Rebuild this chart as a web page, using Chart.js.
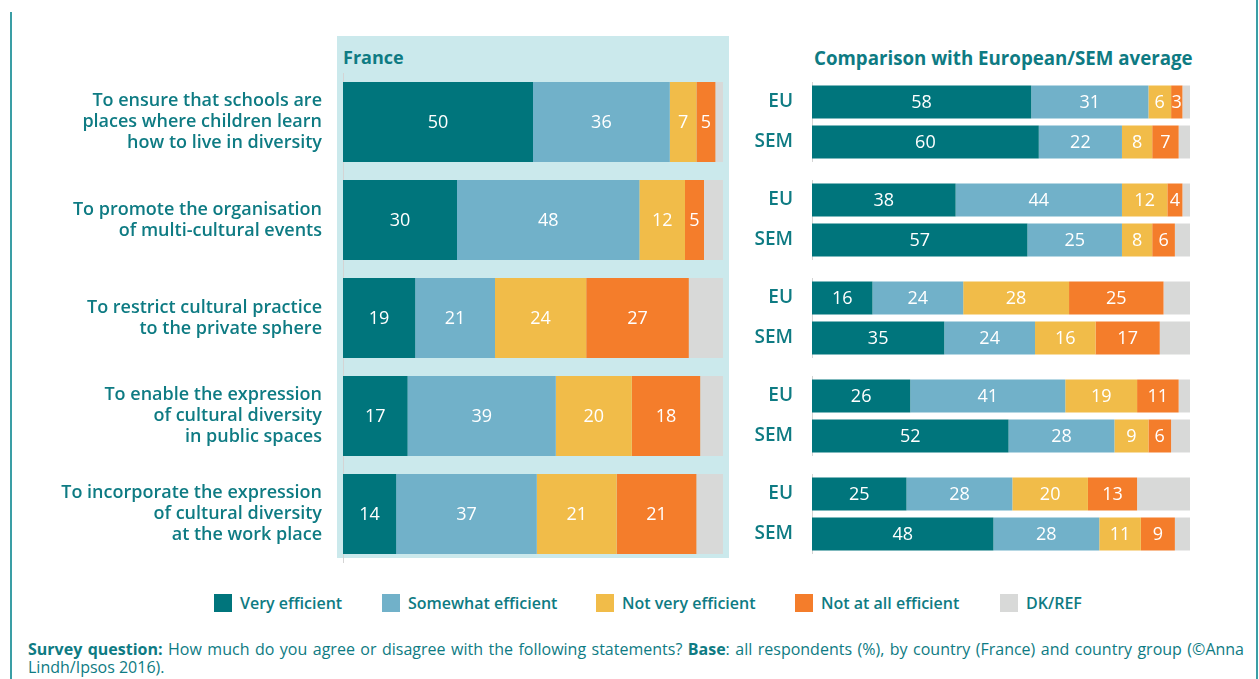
<!DOCTYPE html>
<html>
<head>
<meta charset="utf-8">
<title>Cultural diversity measures</title>
<script src="https://cdn.jsdelivr.net/npm/chart.js@4.4.1/dist/chart.umd.min.js"></script>
<style>
  body { margin: 0; background: #fff; font-family: "Open Sans", sans-serif; color: #0e7b83; }
  #page { position: relative; width: 1259px; height: 679px; overflow: hidden; }
  .rule { position: absolute; width: 2px; background: #3a9ea5; }
  #panel { position: absolute; left: 337px; top: 36px; width: 392px; height: 522px; background: #cbe9ec; }
  .title { position: absolute; font-weight: 700; font-size: 18px; line-height: 24px; white-space: nowrap; }
  canvas { position: absolute; }
  #legend { position: absolute; top: 593px; left: 0; width: 1259px; height: 20px; }
  .key { position: absolute; top: 0; font-size: 16px; font-weight: 600; line-height: 20px; white-space: nowrap; }
  .key i { position: absolute; left: -26px; top: 1px; width: 18px; height: 18px; }
  #note { position: absolute; left: 28px; top: 640px; width: 1216px; font-size: 16px; line-height: 18px; text-align: justify; }
</style>
</head>
<body>
<div id="page">
  <div class="rule" style="left:10px;top:12px;height:667px"></div>
  <div class="rule" style="left:1256px;top:0;height:679px"></div>
  <div id="panel"></div>
  <div class="title" style="left:343px;top:45px">France</div>
  <div class="title" style="left:814px;top:46px;font-size:18.7px">Comparison with European/SEM average</div>
  <canvas id="france" width="723" height="490" style="left:0;top:73px"></canvas>
  <div id="groups"></div>
  <div id="legend"></div>
  <div id="note"><b>Survey question:</b> How much do you agree or disagree with the following statements? <b>Base</b>: all respondents (%), by country (France) and country group (©Anna Lindh/Ipsos 2016).</div>
</div>
<script>
// statements (one line per array entry)
const statements = [
  ['To ensure that schools are', 'places where children learn', 'how to live in diversity'],
  ['To promote the organisation', 'of multi-cultural events'],
  ['To restrict cultural practice', 'to the private sphere'],
  ['To enable the expression', 'of cultural diversity', 'in public spaces'],
  ['To incorporate the expression', 'of cultural diversity', 'at the work place']
];
const regions = ['EU', 'SEM'];
const answers = ['Very efficient', 'Somewhat efficient', 'Not very efficient', 'Not at all efficient', 'DK/REF'];

// France, % per statement
const franceVery     = [50, 30, 19, 17, 14];
const franceSomewhat = [36, 48, 21, 39, 37];
const franceNotVery  = [7, 12, 24, 20, 21];
const franceNotAtAll = [5, 5, 27, 18, 21];
const franceDk       = [2, 5, 9, 6, 7];

// European average, % per statement
const euVery     = [58, 38, 16, 26, 25];
const euSomewhat = [31, 44, 24, 41, 28];
const euNotVery  = [6, 12, 28, 19, 20];
const euNotAtAll = [3, 4, 25, 11, 13];
const euDk       = [2, 2, 7, 3, 14];

// South-East Mediterranean average, % per statement
const semVery     = [60, 57, 35, 52, 48];
const semSomewhat = [22, 25, 24, 28, 28];
const semNotVery  = [8, 8, 16, 9, 11];
const semNotAtAll = [7, 6, 17, 6, 9];
const semDk       = [3, 4, 8, 5, 4];

const colors = ['#00757c', '#71b1c9', '#f1bc49', '#f47d2b', '#d8d9d8'];
const teal = '#0e7b83';

// white numbers centred in every answered segment
const valueLabels = {
  id: 'valueLabels',
  afterDatasetsDraw(chart) {
    const ctx = chart.ctx;
    ctx.save();
    ctx.fillStyle = '#fff';
    ctx.font = '500 18px "Open Sans"';
    ctx.textAlign = 'center';
    ctx.textBaseline = 'middle';
    chart.data.datasets.forEach((ds, d) => {
      if (ds.label === 'DK/REF') return;
      chart.getDatasetMeta(d).data.forEach((bar, i) => {
        const p = bar.getCenterPoint();
        ctx.fillText(String(ds.data[i]), p.x, p.y + 1);
      });
    });
    ctx.restore();
  }
};

function stackedBars(canvas, labels, series, axisWidth, tickFont, tickPad, thickness) {
  return new Chart(canvas, {
    type: 'bar',
    data: {
      labels: labels,
      datasets: series.map((values, k) => ({
        label: answers[k],
        data: values,
        backgroundColor: colors[k],
        borderWidth: 0,
        categoryPercentage: 1,
        barPercentage: thickness
      }))
    },
    options: {
      indexAxis: 'y',
      responsive: false,
      animation: false,
      devicePixelRatio: 1,
      layout: { padding: 0 },
      plugins: { legend: { display: false }, tooltip: { enabled: false } },
      scales: {
        x: { stacked: true, min: 0, max: 100, display: false },
        y: {
          stacked: true,
          grid: { display: false, drawTicks: false },
          border: { display: true, color: '#d4d4d4', width: 1 },
          ticks: { color: teal, font: tickFont, padding: tickPad },
          afterFit(scale) {
            scale.width = axisWidth;
            scale.paddingTop = 0;
            scale.paddingBottom = 0;
          }
        }
      }
    },
    plugins: [valueLabels]
  });
}

stackedBars(document.getElementById('france'), statements,
  [franceVery, franceSomewhat, franceNotVery, franceNotAtAll, franceDk],
  343, { family: 'Open Sans', size: 18, weight: 600, lineHeight: '21px' }, 21, 80 / 98);

// one small chart per statement for the EU / SEM comparison
const groups = document.getElementById('groups');
statements.forEach((s, i) => {
  const c = document.createElement('canvas');
  c.width = 450;
  c.height = 80;
  c.style.left = '740px';
  c.style.top = (81.5 + i * 98) + 'px';
  groups.appendChild(c);
  stackedBars(c, regions, [
    [euVery[i], semVery[i]],
    [euSomewhat[i], semSomewhat[i]],
    [euNotVery[i], semNotVery[i]],
    [euNotAtAll[i], semNotAtAll[i]],
    [euDk[i], semDk[i]]
  ], 72, { family: 'Open Sans', size: 19, weight: 600 }, 19, 33 / 40);
});

// legend
const keyX = [240, 408, 622, 821, 1026];
const legend = document.getElementById('legend');
answers.forEach((a, k) => {
  const el = document.createElement('div');
  el.className = 'key';
  el.style.left = keyX[k] + 'px';
  el.innerHTML = '<i style="background:' + colors[k] + '"></i>' + a;
  legend.appendChild(el);
});
</script>
</body>
</html>
